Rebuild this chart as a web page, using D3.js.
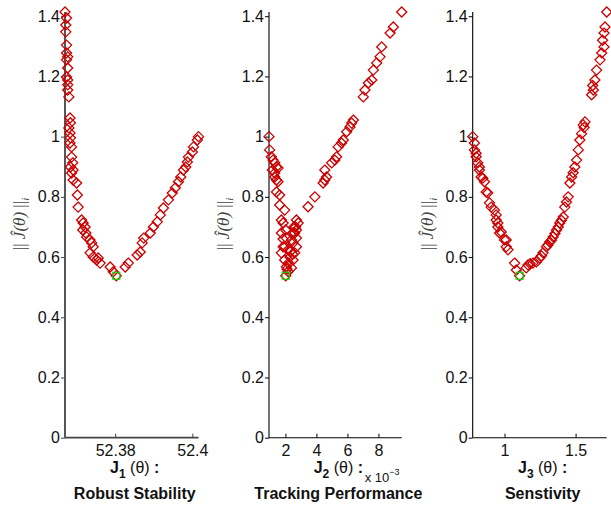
<!DOCTYPE html>
<html>
<head>
<meta charset="utf-8">
<script src="https://cdn.jsdelivr.net/npm/d3@7/dist/d3.min.js"></script>
<style>
  html, body { margin: 0; padding: 0; background: #fff; }
  svg { display: block; }
</style>
</head>
<body>
<svg id="chart" width="611" height="506"></svg>
<script>
// ---- data -------------------------------------------------------------
// Normalised design cost ||J(θ)||_i plotted against each objective.
const normTicks = [0, 0.2, 0.4, 0.6, 0.8, 1, 1.2, 1.4];

// J1: robust stability
const j1Values = [52.3670, 52.3674, 52.3672, 52.3672, 52.3674, 52.3674, 52.3677, 52.3674, 52.3677, 52.3674,
  52.3677, 52.3677, 52.3677, 52.3680, 52.3683, 52.3684, 52.3680, 52.3683, 52.3684, 52.3683,
  52.3687, 52.3687, 52.3690, 52.3684, 52.3691, 52.3687, 52.3691, 52.3700, 52.3702, 52.3704,
  52.3713, 52.3717, 52.3722, 52.3716, 52.3724, 52.3726, 52.3735, 52.3739, 52.3743, 52.3735,
  52.3743, 52.3752, 52.3761, 52.3756, 52.3787, 52.3795, 52.3803,
  52.3826, 52.3834, 52.3857, 52.3865, 52.3870, 52.3874, 52.3891, 52.3899, 52.3909, 52.3917,
  52.3925, 52.3938, 52.3948, 52.3956, 52.3964, 52.3970, 52.3977, 52.3983, 52.3987, 52.3990,
  52.4000, 52.4003, 52.4013, 52.4016];
const j1Norm = [1.414, 1.394, 1.371, 1.348, 1.304, 1.278, 1.265, 1.255, 1.228, 1.198,
  1.188, 1.172, 1.155, 1.132, 1.062, 1.046, 1.029, 1.012, 0.996, 0.979,
  0.966, 0.932, 0.913, 0.899, 0.889, 0.879, 0.856, 0.846, 0.806, 0.766,
  0.723, 0.713, 0.700, 0.690, 0.680, 0.667, 0.657, 0.647, 0.634, 0.614,
  0.600, 0.590, 0.580, 0.597, 0.567, 0.551, 0.538,
  0.567, 0.580, 0.607, 0.617, 0.647, 0.663, 0.680, 0.700, 0.717, 0.740,
  0.763, 0.790, 0.813, 0.830, 0.850, 0.866, 0.889, 0.899, 0.916, 0.932,
  0.949, 0.966, 0.989, 1.000];
const j1Ticks = [52.38, 52.4];

// J2: tracking performance (units of 1e-3)
const j2Values = [0.94, 0.98, 1.09, 1.20, 1.31, 1.42, 1.16, 1.52, 1.31, 1.31,
  1.42, 1.52, 1.42, 1.63, 1.63, 1.95, 1.74, 1.85, 2.02, 1.74,
  2.06, 1.95, 1.74, 1.85, 2.17, 1.95, 2.06, 2.17, 2.02, 2.39,
  2.49, 2.60, 2.71, 2.49, 2.71, 2.60, 2.71, 2.82, 2.71, 2.39,
  2.49, 2.29, 2.20, 2.35, 2.55, 2.10, 2.45, 1.85, 2.65,
  3.46, 3.90, 4.43, 4.54, 4.65, 4.54, 4.98, 5.19, 5.30, 5.40,
  5.62, 5.73, 5.95, 6.16, 6.38, 6.27, 7.02, 7.13, 7.35, 7.57,
  7.67, 7.89, 8.10, 8.21, 8.75, 8.96, 9.50];
const j2Norm = [1.000, 0.956, 0.933, 0.922, 0.913, 0.899, 0.889, 0.896, 0.879, 0.866,
  0.856, 0.850, 0.816, 0.806, 0.773, 0.756, 0.723, 0.713, 0.690, 0.680,
  0.663, 0.634, 0.614, 0.634, 0.624, 0.590, 0.568, 0.552, 0.538, 0.564,
  0.590, 0.614, 0.634, 0.647, 0.663, 0.680, 0.690, 0.713, 0.723, 0.657,
  0.680, 0.600, 0.580, 0.620, 0.700, 0.560, 0.610, 0.660, 0.700,
  0.767, 0.800, 0.846, 0.856, 0.866, 0.889, 0.913, 0.922, 0.933, 0.966,
  0.979, 0.989, 1.016, 1.032, 1.055, 1.045, 1.132, 1.155, 1.178, 1.188,
  1.221, 1.245, 1.265, 1.298, 1.344, 1.364, 1.414];
const j2Ticks = [2, 4, 6, 8];

// J3: sensitivity
const j3Values = [0.776, 0.788, 0.800, 0.811, 0.823, 0.835, 0.859, 0.871, 0.894, 0.929,
  0.941, 0.953, 0.965, 1.000, 1.012, 0.788, 0.800, 0.823, 0.847, 0.882,
  0.906, 0.941, 0.953, 0.977, 1.012, 1.024, 1.071, 1.083, 1.106,
  1.153, 1.165, 1.224, 1.248, 1.271, 1.295, 1.318, 1.342, 1.366, 1.389,
  1.413, 1.424, 1.448, 1.460, 1.472, 1.495, 1.507, 1.519, 1.530, 1.554,
  1.566, 1.613, 1.625, 1.636, 1.648, 1.672, 1.684, 1.700, 1.700, 1.707, 1.719,
  1.180, 1.200, 1.260, 1.305, 1.330, 1.355, 1.378, 1.400, 1.436, 1.483, 1.542, 1.560, 1.620, 1.690];
const j3Norm = [1.000, 0.956, 0.933, 0.913, 0.889, 0.866, 0.850, 0.816, 0.780, 0.756,
  0.723, 0.700, 0.680, 0.657, 0.634, 0.979, 0.945, 0.899, 0.862, 0.813,
  0.766, 0.740, 0.713, 0.683, 0.657, 0.624, 0.580, 0.557, 0.538,
  0.564, 0.574, 0.584, 0.597, 0.614, 0.634, 0.650, 0.667, 0.690, 0.713,
  0.733, 0.766, 0.800, 0.846, 0.866, 0.899, 0.922, 0.956, 0.989, 1.039,
  1.049, 1.139, 1.155, 1.188, 1.221, 1.255, 1.278, 1.298, 1.344, 1.364, 1.414,
  0.578, 0.580, 0.604, 0.640, 0.656, 0.678, 0.700, 0.722, 0.783, 0.880, 1.010, 1.030, 1.170, 1.320];
const j3Ticks = [1, 1.5];

// Best compromise design (highlighted in every panel)
const optimumValues = [52.3803, 2.02, 1.106];
const optimumNorm = 0.538;

const objectiveSubscripts = ["1", "2", "3"];
const objectiveNames = ["Robust Stability", "Tracking Performance", "Senstivity"];

// ---- layout -------------------------------------------------------------
const panels = [
  { xs: j1Values, ys: j1Norm, ticks: j1Ticks, left: 65, right: 198.5, axisColor: "#444", axisWidth: 1.8 },
  { xs: j2Values, ys: j2Norm, ticks: j2Ticks, left: 269, right: 401.7, axisColor: "#000", axisWidth: 1.1, exponent: "−3" },
  { xs: j3Values, ys: j3Norm, ticks: j3Ticks, left: 472.7, right: 606.7, axisColor: "#000", axisWidth: 1.1 }
];
const plotTop = 12, plotBottom = 437.7;
const markerRed = "#cc0000";
const markerGreen = "#14d814";
const tickFont = "'Liberation Sans', Arial, Helvetica, sans-serif";

const svg = d3.select("#chart");
const yMax = d3.max([j1Norm, j2Norm, j3Norm].flat());
const diamond = d3.symbol().type(d3.symbolDiamond2).size(64);

panels.forEach((p, i) => {
  const g = svg.append("g");
  const x = d3.scaleLinear().domain(d3.extent(p.xs)).range([p.left, p.right]);
  const y = d3.scaleLinear().domain([0, yMax]).range([plotBottom, plotTop]);

  // y axis: ticks point outward
  const yAxis = g.append("g")
    .attr("transform", `translate(${p.left},0)`)
    .call(d3.axisLeft(y).tickValues(normTicks).tickSize(4).tickPadding(1)
      .tickFormat(d => d === 0 ? "0" : (d === 1 ? "1" : d3.format(".1f")(d))));
  // x axis: ticks point inward
  const xAxis = g.append("g")
    .attr("transform", `translate(0,${plotBottom})`)
    .call(d3.axisBottom(x).tickValues(p.ticks).tickSize(-4).tickPadding(7).tickFormat(d => String(d)));

  [yAxis, xAxis].forEach(a => {
    a.attr("font-size", null).attr("font-family", null);
    a.select(".domain").attr("stroke", p.axisColor).attr("stroke-width", p.axisWidth);
    a.selectAll(".tick line").attr("stroke", p.axisColor).attr("stroke-width", 1);
    a.selectAll(".tick text").attr("fill", "#111").attr("font-family", tickFont).attr("font-size", 16);
  });
  // domain lines without end caps
  yAxis.select(".domain").attr("d", `M0,${plotBottom}V${plotTop}`);
  xAxis.select(".domain").attr("d", `M${p.left},0H${p.right}`);

  // data markers
  const pts = p.xs.map((v, k) => [v, p.ys[k]]);
  g.append("g").selectAll("path").data(pts).join("path")
    .attr("transform", d => `translate(${x(d[0])},${y(d[1])})`)
    .attr("d", diamond)
    .attr("fill", "none")
    .attr("stroke", markerRed)
    .attr("stroke-width", 1.3);

  // selected design
  const ox = x(optimumValues[i]), oy = y(optimumNorm);
  g.append("rect")
    .attr("x", ox - 3.5).attr("y", oy - 3.5).attr("width", 7).attr("height", 7)
    .attr("fill", "none").attr("stroke", markerGreen).attr("stroke-width", 1.2);

  // y-axis title
  const cx = p.left - 40, cy = 224;
  const yl = g.append("text")
    .attr("transform", `translate(${cx},${cy}) rotate(-90)`)
    .attr("text-anchor", "middle")
    .attr("font-family", "'Liberation Serif', 'DejaVu Serif', serif")
    .attr("font-size", 17)
    .attr("fill", "#444");
  yl.append("tspan").text("|| ");
  yl.append("tspan").attr("font-style", "italic").text("Ĵ(θ)");
  yl.append("tspan").text(" ||");
  yl.append("tspan").attr("font-style", "italic").attr("font-size", 11).attr("dy", 4).text("i");

  // x-axis title
  const mid = (p.left + p.right) / 2 + 3;
  const xl = g.append("text")
    .attr("x", mid).attr("y", 473)
    .attr("text-anchor", "middle")
    .attr("font-family", tickFont)
    .attr("font-size", 16)
    .attr("fill", "#111");
  xl.append("tspan").attr("font-weight", "bold").text("J");
  xl.append("tspan").attr("font-weight", "bold").attr("font-size", 12).attr("dy", 5).text(objectiveSubscripts[i]);
  xl.append("tspan").attr("dy", -5).text(" (θ) ");
  xl.append("tspan").attr("font-weight", "bold").text(":");

  g.append("text")
    .attr("x", mid).attr("y", 499)
    .attr("text-anchor", "middle")
    .attr("font-family", tickFont)
    .attr("font-size", 16)
    .attr("font-weight", "bold")
    .attr("fill", "#111")
    .text(objectiveNames[i]);

  if (p.exponent) {
    const ex = g.append("text")
      .attr("x", p.right - 37).attr("y", 482)
      .attr("font-family", tickFont)
      .attr("font-size", 13)
      .attr("fill", "#111");
    ex.append("tspan").text("x 10");
    ex.append("tspan").attr("font-size", 9).attr("dy", -7).text(p.exponent);
  }
});
</script>
</body>
</html>
